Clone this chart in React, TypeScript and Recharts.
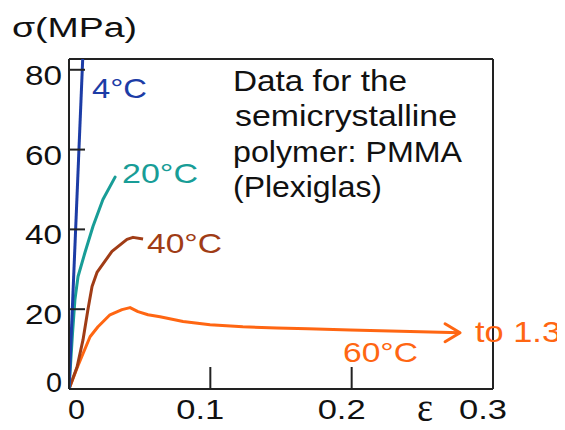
import { LineChart, Line, XAxis, YAxis, ReferenceLine } from "recharts";

// stress-strain curves (strain, stress in MPa)
const curve4C = [
  { strain: 0, stress: 0 },
  { strain: 0.0097, stress: 82.7 },
];

const curve20C = [
  { strain: 0, stress: 0 },
  { strain: 0.0025, stress: 14 },
  { strain: 0.0042, stress: 22.4 },
  { strain: 0.0064, stress: 28.2 },
  { strain: 0.0113, stress: 34.2 },
  { strain: 0.017, stress: 40.8 },
  { strain: 0.024, stress: 47.5 },
  { strain: 0.0326, stress: 53.1 },
];

const curve40C = [
  { strain: 0, stress: 0 },
  { strain: 0.0057, stress: 5.5 },
  { strain: 0.0099, stress: 12.3 },
  { strain: 0.0134, stress: 19.9 },
  { strain: 0.0163, stress: 25.7 },
  { strain: 0.0198, stress: 29.2 },
  { strain: 0.0304, stress: 34.5 },
  { strain: 0.041, stress: 37.5 },
  { strain: 0.0453, stress: 38.0 },
  { strain: 0.0524, stress: 37.6 },
];

const curve60C = [
  { strain: 0, stress: 0 },
  { strain: 0.0057, stress: 5.3 },
  { strain: 0.0149, stress: 13.1 },
  { strain: 0.0205, stress: 15.6 },
  { strain: 0.029, stress: 18.6 },
  { strain: 0.0375, stress: 19.9 },
  { strain: 0.0432, stress: 20.4 },
  { strain: 0.0488, stress: 19.4 },
  { strain: 0.0559, stress: 18.6 },
  { strain: 0.0644, stress: 18.1 },
  { strain: 0.0807, stress: 16.9 },
  { strain: 0.0998, stress: 16.1 },
  { strain: 0.123, stress: 15.6 },
  { strain: 0.147, stress: 15.3 },
  { strain: 0.169, stress: 15.1 },
  { strain: 0.199, stress: 14.8 },
  { strain: 0.2767, stress: 14.1 },
];

const xTicks = [0, 0.1, 0.2, 0.3];
const yTicks = [0, 20, 40, 60, 80];
const yMax = 82.7;

const FONT = "'Liberation Sans', Arial, sans-serif";
const AXIS = "#222";

const XTick = ({ x, y, payload }: any) => {
  const v = payload.value;
  const isZero = v === 0;
  return (
    <g>
      {!isZero && v !== 0.3 && (
        <line x1={x} y1={y} x2={x} y2={y - 22} stroke={AXIS} strokeWidth={2} />
      )}
      <text
        x={isZero ? x - 1 : x - 10}
        y={y + 30}
        textAnchor={isZero ? "start" : "middle"}
        textLength={isZero ? 17 : 48}
        lengthAdjust="spacingAndGlyphs"
        fontFamily={FONT}
        fontSize={28}
        fill="#111"
      >
        {String(v)}
      </text>
    </g>
  );
};

const YTick = ({ x, y, payload }: any) => {
  const v = payload.value;
  const isZero = v === 0;
  return (
    <g>
      {!isZero && (
        <line x1={x} y1={y} x2={x + 16} y2={y} stroke={AXIS} strokeWidth={2} />
      )}
      <text
        x={x - 7}
        y={isZero ? y + 3 : y + 15}
        textAnchor="end"
        textLength={isZero ? 16 : 37}
        lengthAdjust="spacingAndGlyphs"
        fontFamily={FONT}
        fontSize={28}
        fill="#111"
      >
        {String(v)}
      </text>
    </g>
  );
};

// chevron at the end of the 60°C curve
const ArrowDot = (props: any) => {
  const { cx, cy, index } = props;
  if (index !== curve60C.length - 1) return <g key={`a-${index}`} />;
  return (
    <path
      key={`a-${index}`}
      d={`M${cx - 15},${cy - 9} L${cx},${cy} L${cx - 15},${cy + 9}`}
      fill="none"
      stroke="#ff6612"
      strokeWidth={3}
      strokeLinecap="round"
      strokeLinejoin="round"
    />
  );
};

const labels = [
  { text: "σ(MPa)", x: 4, y: 29, w: 125, size: 27, color: "#111", family: FONT },
  { text: "Data for the", x: 225, y: 83, w: 174, size: 29, color: "#111", family: FONT },
  { text: "semicrystalline", x: 227, y: 118, w: 222, size: 29, color: "#111", family: FONT },
  { text: "polymer: PMMA", x: 225, y: 154, w: 229, size: 29, color: "#111", family: FONT },
  { text: "(Plexiglas)", x: 225, y: 189, w: 149, size: 29, color: "#111", family: FONT },
  { text: "4°C", x: 84, y: 90, w: 55, size: 28, color: "#1c3ca6", family: FONT },
  { text: "20°C", x: 114, y: 175, w: 76, size: 28, color: "#189d97", family: FONT },
  { text: "40°C", x: 139, y: 245, w: 75, size: 28, color: "#a03c16", family: FONT },
  { text: "60°C", x: 335, y: 354, w: 75, size: 28, color: "#ff6612", family: FONT },
  { text: "to 1.3", x: 467, y: 334, w: 86, size: 29, color: "#ff6612", family: FONT },
  { text: "ε", x: 409, y: 413, w: 16, size: 42, color: "#111", family: "'Liberation Serif', 'Times New Roman', serif" },
];

export default function App() {
  return (
    <div style={{ position: "relative", width: 557, height: 422, marginBottom: -8 }}>
      <LineChart
        width={557}
        height={422}
        margin={{ top: 51, right: 72, bottom: 0, left: 0 }}
      >
        <XAxis
          type="number"
          dataKey="strain"
          domain={[0, 0.3]}
          ticks={xTicks}
          allowDataOverflow
          height={41}
          tickSize={0}
          tickMargin={0}
          tickLine={false}
          tick={<XTick />}
          axisLine={{ stroke: AXIS, strokeWidth: 2 }}
        />
        <YAxis
          type="number"
          domain={[0, yMax]}
          ticks={yTicks}
          allowDataOverflow
          width={61}
          tickSize={0}
          tickMargin={0}
          tickLine={false}
          tick={<YTick />}
          axisLine={{ stroke: AXIS, strokeWidth: 2 }}
        />
        <ReferenceLine y={yMax} stroke={AXIS} strokeWidth={2} />
        <ReferenceLine x={0.3} stroke={AXIS} strokeWidth={2} />
        <Line
          data={curve60C}
          dataKey="stress"
          type="linear"
          stroke="#ff6612"
          strokeWidth={3}
          strokeLinejoin="round"
          dot={ArrowDot}
          activeDot={false}
          isAnimationActive={false}
        />
        <Line
          data={curve40C}
          dataKey="stress"
          type="linear"
          stroke="#a03c16"
          strokeWidth={3}
          strokeLinejoin="round"
          dot={false}
          activeDot={false}
          isAnimationActive={false}
        />
        <Line
          data={curve20C}
          dataKey="stress"
          type="linear"
          stroke="#189d97"
          strokeWidth={3}
          strokeLinejoin="round"
          strokeLinecap="round"
          dot={false}
          activeDot={false}
          isAnimationActive={false}
        />
        <Line
          data={curve4C}
          dataKey="stress"
          type="linear"
          stroke="#1c3ca6"
          strokeWidth={3}
          dot={false}
          activeDot={false}
          isAnimationActive={false}
        />
      </LineChart>
      <svg
        width={557}
        height={422}
        style={{ position: "absolute", left: 0, top: 0, pointerEvents: "none" }}
      >
        {labels.map((l) => (
          <text
            key={l.text}
            x={l.x}
            y={l.y}
            textLength={l.w}
            lengthAdjust="spacingAndGlyphs"
            fontFamily={l.family}
            fontSize={l.size}
            fill={l.color}
          >
            {l.text}
          </text>
        ))}
      </svg>
    </div>
  );
}
